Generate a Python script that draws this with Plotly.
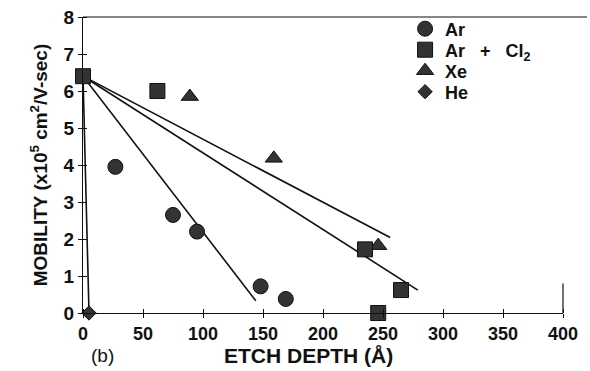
import plotly.graph_objects as go

# Data
ar_x = [27, 75, 95, 148, 169]
ar_y = [3.95, 2.65, 2.2, 0.72, 0.38]
arcl_x = [0, 62, 235, 265, 246]
arcl_y = [6.4, 6.0, 1.72, 0.62, 0.0]
xe_x = [89, 159, 246]
xe_y = [5.85, 4.18, 1.82]
he_x = [5]
he_y = [0.0]

# fitted lines (endpoints)
fit_ar_x, fit_ar_y = [0, 144], [6.4, 0.33]
fit_arcl_x, fit_arcl_y = [0, 279], [6.4, 0.62]
fit_xe_x, fit_xe_y = [0, 256], [6.4, 2.04]
fit_he_x, fit_he_y = [0, 5], [6.4, 0.0]

x_ticks = [0, 50, 100, 150, 200, 250, 300, 350, 400]
y_ticks = [0, 1, 2, 3, 4, 5, 6, 7, 8]

FONT = "Liberation Sans"
mcol = "#333333"
NB = "\u00a0"

fig = go.Figure()
for fx, fy in [(fit_ar_x, fit_ar_y), (fit_arcl_x, fit_arcl_y), (fit_xe_x, fit_xe_y), (fit_he_x, fit_he_y)]:
    fig.add_trace(go.Scatter(x=fx, y=fy, mode="lines", line=dict(color="#111", width=1.6),
                             showlegend=False, hoverinfo="skip", cliponaxis=False))

fig.add_trace(go.Scatter(x=ar_x, y=ar_y, mode="markers", name="Ar", legend="legend",
                         marker=dict(symbol="circle", size=15, color=mcol, line=dict(color="#111", width=1)),
                         cliponaxis=False))
fig.add_trace(go.Scatter(x=xe_x, y=xe_y, mode="markers", name="Xe", legend="legend3",
                         marker=dict(symbol="triangle-up", size=15, color=mcol, line=dict(color="#111", width=1)),
                         cliponaxis=False))
fig.add_trace(go.Scatter(x=he_x, y=he_y, mode="markers", name="He", legend="legend4",
                         marker=dict(symbol="diamond", size=11, color=mcol, line=dict(color="#111", width=1)),
                         cliponaxis=False))
fig.add_trace(go.Scatter(x=arcl_x, y=arcl_y, mode="markers",
                         name="Ar" + NB * 3 + "+" + NB * 3 + "Cl<sub>2</sub>", legend="legend2",
                         marker=dict(symbol="square", size=15, color=mcol, line=dict(color="#111", width=1)),
                         cliponaxis=False))

PLOT_TOP, PLOT_BOTTOM = 17, 313
def py(px):
    return (PLOT_BOTTOM - px) / (PLOT_BOTTOM - PLOT_TOP)

leg_common = dict(x=0.671, xanchor="left", yanchor="middle", bgcolor="rgba(0,0,0,0)",
                  font=dict(family=FONT, size=18, weight="bold", color="#111"),
                  itemwidth=30, borderwidth=0)

fig.update_layout(
    width=590, height=371,
    margin=dict(l=83, r=27, t=17, b=58, autoexpand=False),
    plot_bgcolor="white", paper_bgcolor="white",
    font=dict(family=FONT, color="#111", size=16),
    showlegend=True,
    legend=dict(y=py(29), **leg_common),
    legend2=dict(y=py(50), **leg_common),
    legend3=dict(y=py(71), **leg_common),
    legend4=dict(y=py(92), **leg_common),
    xaxis=dict(range=[0, 400], tickvals=x_ticks, ticktext=[str(v) for v in x_ticks],
               showgrid=False, zeroline=False, showline=True, linecolor="#111", linewidth=1.2,
               ticks="outside", ticklen=4, tickcolor="#111",
               minor=dict(tickmode="array", tickvals=x_ticks, ticks="inside", ticklen=4, tickcolor="#111"),
               tickfont=dict(family=FONT, size=18, weight="bold")),
    yaxis=dict(range=[0, 8], tickvals=y_ticks, ticktext=[str(v) for v in y_ticks],
               showgrid=False, zeroline=False, showline=True, linecolor="#111", linewidth=1.2,
               ticks="outside", ticklen=4, tickcolor="#111",
               minor=dict(tickmode="array", tickvals=y_ticks, ticks="inside", ticklen=4, tickcolor="#111"),
               tickfont=dict(family=FONT, size=19, weight="bold"),
               title=dict(text="MOBILITY (x10<sup>5</sup> cm<sup>2</sup>/V-sec)",
                          font=dict(family=FONT, size=19, weight="bold"), standoff=10)),
    shapes=[dict(type="line", xref="paper", yref="paper", x0=0, x1=1.05, y0=1, y1=1,
                 line=dict(color="#111", width=1.2)),
            dict(type="line", xref="paper", yref="paper", x0=1, x1=1, y0=0, y1=0.1,
                 line=dict(color="#111", width=1.2))],
    annotations=[dict(text="(b)", xref="paper", yref="paper", x=0.04, y=py(355),
                      xanchor="center", yanchor="middle", showarrow=False,
                      font=dict(family=FONT, size=19, color="#111")),
                 dict(text="ETCH DEPTH (Å)", xref="paper", yref="paper", x=(308 - 83) / 480, y=py(355),
                      xanchor="center", yanchor="middle", showarrow=False,
                      font=dict(family=FONT, size=21, weight="bold", color="#111"))],
)

fig.write_html("out.html")
